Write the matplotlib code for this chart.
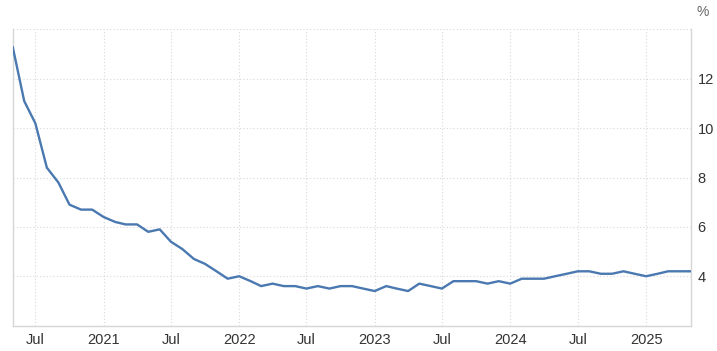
import matplotlib.pyplot as plt
import matplotlib.dates as mdates
import numpy as np
import pandas as pd

plt.rcParams["font.family"] = ["Liberation Sans", "DejaVu Sans"]

# monthly unemployment rate, May 2020 .. May 2025
start_month = "2020-05-01"
rate = [
    13.3, 11.1, 10.2, 8.4, 7.8, 6.9, 6.7, 6.7,             # 2020 May-Dec
    6.4, 6.2, 6.1, 6.1, 5.8, 5.9, 5.4, 5.1, 4.7, 4.5, 4.2, 3.9,  # 2021
    4.0, 3.8, 3.6, 3.7, 3.6, 3.6, 3.5, 3.6, 3.5, 3.6, 3.6, 3.5,  # 2022
    3.4, 3.6, 3.5, 3.4, 3.7, 3.6, 3.5, 3.8, 3.8, 3.8, 3.7, 3.8,  # 2023
    3.7, 3.9, 3.9, 3.9, 4.0, 4.1, 4.2, 4.2, 4.1, 4.1, 4.2, 4.1,  # 2024
    4.0, 4.1, 4.2, 4.2, 4.2,                                # 2025 Jan-May
]
months = pd.date_range(start_month, periods=len(rate), freq="MS")

x_ticks = pd.to_datetime([
    "2020-07-01", "2021-01-01", "2021-07-01", "2022-01-01", "2022-07-01",
    "2023-01-01", "2023-07-01", "2024-01-01", "2024-07-01", "2025-01-01",
])
x_labels = ["Jul", "2021", "Jul", "2022", "Jul", "2023", "Jul", "2024", "Jul", "2025"]
y_ticks = [4, 6, 8, 10, 12, 14]
y_labels = ["4", "6", "8", "10", "12", ""]

fig = plt.figure(figsize=(7.17, 3.51), dpi=100)
ax = fig.add_axes([0.0177, 0.0724, 0.9456, 0.8436])

ax.plot(months, rate, color="#4a78b0", lw=1.7, solid_joinstyle="round",
        solid_capstyle="round", zorder=3)

ax.set_xlim(months[0], months[-1])
ax.set_ylim(2, 14)
ax.set_xticks(x_ticks)
ax.set_xticklabels(x_labels)
ax.set_yticks(y_ticks)
ax.set_yticklabels(y_labels)
ax.yaxis.tick_right()

ax.tick_params(axis="both", length=0, labelsize=10.5, colors="#333333")
ax.tick_params(axis="x", pad=5)
ax.tick_params(axis="y", pad=5)

ax.grid(True, color="#d9d9d9", lw=0.8, ls=(0, (1, 2)))
ax.set_axisbelow(True)

for side in ("left", "right", "bottom"):
    ax.spines[side].set_color("#d6d6d6")
    ax.spines[side].set_linewidth(1.0)
ax.spines["top"].set_visible(False)

fig.text(0.971, 0.965, "%", fontsize=10, color="#666666", ha="left", va="center")

fig.savefig("out.png", dpi=100)
plt.close(fig)
